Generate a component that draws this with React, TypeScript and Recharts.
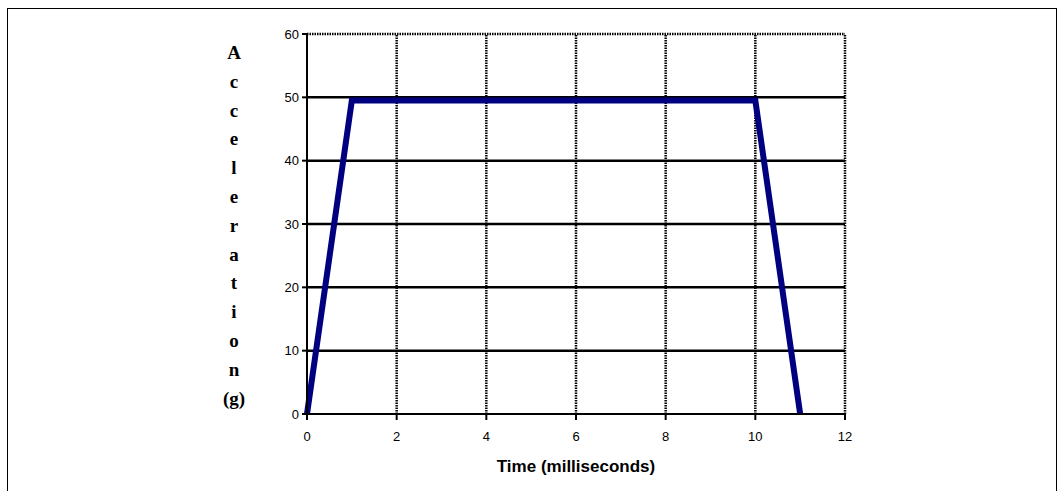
import React from "react";
import { LineChart, Line, XAxis, YAxis, ReferenceLine } from "recharts";

const timeMs = [0, 1, 10, 11];
const accelG = [0, 49.5, 49.5, 0];
const xTicks = [0, 2, 4, 6, 8, 10, 12];
const yTicks = [0, 10, 20, 30, 40, 50, 60];
const yTitleChars = ["A", "c", "c", "e", "l", "e", "r", "a", "t", "i", "o", "n", "(g)"];

const data = timeMs.map((t, i) => ({ t, a: accelG[i] }));

const tickStyle = { fill: "#000", fontSize: 13, fontFamily: "Arial, 'Liberation Sans', sans-serif" };

// stacked vertical title, one glyph per row like the original
const YTitle = (props: any) => {
    const vb = props.viewBox || {};
    return (
        <text
            x={234}
            y={(vb.y || 0) + 25}
            textAnchor="middle"
            fontFamily="'Times New Roman', 'Liberation Serif', serif"
            fontWeight="bold"
            fontSize={19}
            fill="#000"
        >
            {yTitleChars.map((c, i) => (
                <tspan key={i} x={234} dy={i === 0 ? 0 : 28.8}>
                    {c}
                </tspan>
            ))}
        </text>
    );
};

export default function App() {
    return (
        <div style={{ position: "absolute", left: 0, top: 0, width: 1060, height: 491, background: "#fff", overflow: "hidden" }}>
            {/* outer frame, bottom edge falls outside the picture */}
            <div style={{ position: "absolute", left: 7, top: 8, width: 1050, height: 500, border: "1.5px solid #000", boxSizing: "border-box" }} />
            <div style={{ position: "absolute", left: 0, top: 0 }}>
                <LineChart width={1060} height={491} data={data} margin={{ top: 34, right: 215, bottom: 17, left: 0 }}>
                    <XAxis
                        dataKey="t"
                        type="number"
                        domain={[0, 12]}
                        ticks={xTicks}
                        interval={0}
                        height={60}
                        tick={tickStyle}
                        tickSize={6}
                        tickMargin={12}
                        stroke="#000"
                        strokeWidth={2}
                        label={{
                            value: "Time (milliseconds)",
                            position: "insideBottom",
                            offset: 2,
                            style: { fill: "#000", fontSize: 17, fontWeight: "bold", fontFamily: "Arial, 'Liberation Sans', sans-serif" },
                        }}
                    />
                    <YAxis
                        type="number"
                        domain={[0, 60]}
                        ticks={yTicks}
                        interval={0}
                        width={307}
                        tick={tickStyle}
                        tickSize={5}
                        tickMargin={3}
                        stroke="#000"
                        strokeWidth={2}
                        label={{ content: <YTitle /> }}
                    />
                    {yTicks.slice(1).map((v) => (
                        <ReferenceLine
                            key={"h" + v}
                            y={v}
                            stroke="#000"
                            strokeWidth={2.5}
                            strokeDasharray={v === 60 ? "1.5 1" : undefined}
                        />
                    ))}
                    {xTicks.slice(1).map((v) => (
                        <ReferenceLine key={"v" + v} x={v} stroke="#000" strokeWidth={2.5} strokeDasharray="1.5 1" />
                    ))}
                    <Line
                        dataKey="a"
                        type="linear"
                        stroke="#000080"
                        strokeWidth={6}
                        strokeLinejoin="miter"
                        dot={false}
                        isAnimationActive={false}
                    />
                </LineChart>
            </div>
        </div>
    );
}
